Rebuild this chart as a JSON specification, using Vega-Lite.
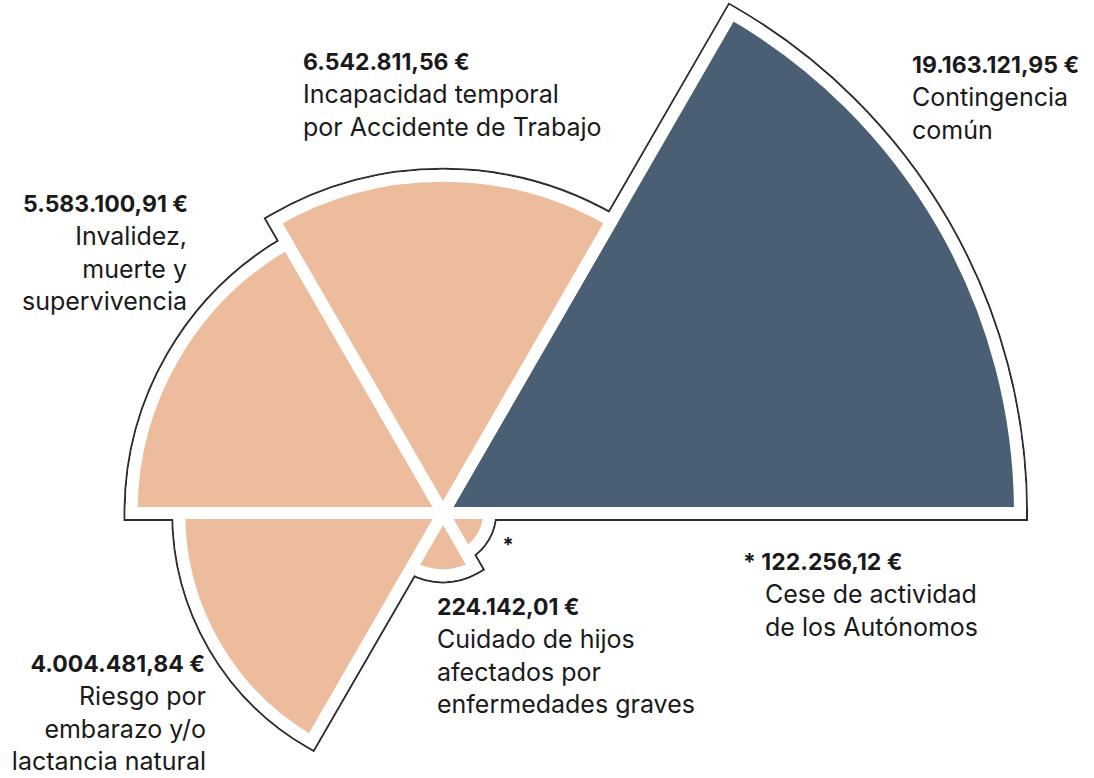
{
  "$schema": "https://vega.github.io/schema/vega-lite/v6.json",
  "width": 1094,
  "height": 778,
  "padding": 0,
  "autosize": {"type": "none"},
  "background": "white",
  "config": {"view": {"stroke": null}, "font": "Inter"},
  "datasets": {
    "sectores": [
      {"categoria": "Contingencia común", "importe": 19163121.95, "orden": 1},
      {"categoria": "Cese de actividad de los Autónomos", "importe": 122256.12, "orden": 2},
      {"categoria": "Cuidado de hijos afectados por enfermedades graves", "importe": 224142.01, "orden": 3},
      {"categoria": "Riesgo por embarazo y/o lactancia natural", "importe": 4004481.84, "orden": 4},
      {"categoria": "Invalidez, muerte y supervivencia", "importe": 5583100.91, "orden": 5},
      {"categoria": "Incapacidad temporal por Accidente de Trabajo", "importe": 6542811.56, "orden": 6}
    ],
    "etiquetas": [
      {"valor": "19.163.121,95 €", "texto": ["Contingencia", "común"], "lx": 469, "ly": 440, "xd": 469, "alinea": "izquierda"},
      {"valor": "6.542.811,56 €", "texto": ["Incapacidad temporal", "por Accidente de Trabajo"], "lx": -140, "ly": 443, "xd": -140, "alinea": "izquierda"},
      {"valor": "5.583.100,91 €", "texto": ["Invalidez,", "muerte y", "supervivencia"], "lx": -255, "ly": 301, "xd": -256, "alinea": "derecha"},
      {"valor": "4.004.481,84 €", "texto": ["Riesgo por", "embarazo y/o", "lactancia natural"], "lx": -238, "ly": -159, "xd": -237, "alinea": "derecha"},
      {"valor": "224.142,01 €", "texto": ["Cuidado de hijos", "afectados por", "enfermedades graves"], "lx": -6, "ly": -102, "xd": -6, "alinea": "izquierda"},
      {"valor": "* 122.256,12 €", "texto": ["Cese de actividad", "de los Autónomos"], "lx": 300, "ly": -57, "xd": 322, "alinea": "izquierda"}
    ],
    "llamadas": [
      {"marca": "*", "lx": 65, "ly": -33}
    ]
  },
  "layer": [
    {
      "data": {"name": "sectores"},
      "transform": [
        {"aggregate": [{"op": "count", "as": "n"}], "groupby": ["categoria", "importe", "orden"]},
        {"stack": "n", "groupby": [], "sort": [{"field": "orden", "order": "ascending"}], "as": ["t0", "t1"]}
      ],
      "layer": [
        {
          "mark": {"type": "arc", "fill": "#2e2e2e", "stroke": "#2e2e2e", "strokeWidth": 16}
        },
        {
          "mark": {"type": "arc", "fill": "white", "stroke": "white", "strokeWidth": 12}
        },
        {
          "mark": {"type": "arc", "stroke": "white", "strokeWidth": 12},
          "encoding": {
            "color": {
              "field": "categoria", "type": "nominal", "legend": null,
              "scale": {
                "domain": ["Contingencia común", "Cese de actividad de los Autónomos", "Cuidado de hijos afectados por enfermedades graves", "Riesgo por embarazo y/o lactancia natural", "Invalidez, muerte y supervivencia", "Incapacidad temporal por Accidente de Trabajo"],
                "range": ["#4a5e74", "#ecbc9c", "#ecbc9c", "#ecbc9c", "#ecbc9c", "#ecbc9c"]
              }
            }
          }
        }
      ],
      "encoding": {
        "x": {"datum": 0, "type": "quantitative", "scale": {"domain": [-443, 651], "nice": false, "zero": false}, "axis": null},
        "y": {"datum": 0, "type": "quantitative", "scale": {"domain": [-265, 513], "nice": false, "zero": false}, "axis": null},
        "theta": {"field": "t0", "type": "quantitative", "scale": {"domain": [0, 6], "range": [0.5236, 6.8068]}},
        "theta2": {"field": "t1"},
        "radius": {"field": "importe", "type": "quantitative", "scale": {"type": "sqrt", "zero": true, "nice": false, "domain": [0, 19163121.95], "range": [0, 577]}}
      }
    },
    {
      "data": {"name": "etiquetas"},
      "transform": [{"filter": "datum.alinea == 'izquierda'"}],
      "layer": [
        {
          "mark": {"type": "text", "align": "left", "baseline": "alphabetic", "fontSize": 23, "fontWeight": 700, "color": "#1a1a1a"},
          "encoding": {
            "x": {"field": "lx", "type": "quantitative", "scale": {"domain": [-443, 651], "nice": false, "zero": false}, "axis": null},
            "text": {"field": "valor", "type": "nominal"}
          }
        },
        {
          "mark": {"type": "text", "align": "left", "baseline": "alphabetic", "fontSize": 25, "fontWeight": 400, "lineHeight": 32.5, "dy": 33, "color": "#1a1a1a"},
          "encoding": {
            "x": {"field": "xd", "type": "quantitative", "scale": {"domain": [-443, 651], "nice": false, "zero": false}, "axis": null},
            "text": {"field": "texto", "type": "nominal"}
          }
        }
      ],
      "encoding": {
        "y": {"field": "ly", "type": "quantitative", "scale": {"domain": [-265, 513], "nice": false, "zero": false}, "axis": null}
      }
    },
    {
      "data": {"name": "etiquetas"},
      "transform": [{"filter": "datum.alinea == 'derecha'"}],
      "layer": [
        {
          "mark": {"type": "text", "align": "right", "baseline": "alphabetic", "fontSize": 23, "fontWeight": 700, "color": "#1a1a1a"},
          "encoding": {
            "x": {"field": "lx", "type": "quantitative", "scale": {"domain": [-443, 651], "nice": false, "zero": false}, "axis": null},
            "text": {"field": "valor", "type": "nominal"}
          }
        },
        {
          "mark": {"type": "text", "align": "right", "baseline": "alphabetic", "fontSize": 25, "fontWeight": 400, "lineHeight": 32.5, "dy": 33, "color": "#1a1a1a"},
          "encoding": {
            "x": {"field": "xd", "type": "quantitative", "scale": {"domain": [-443, 651], "nice": false, "zero": false}, "axis": null},
            "text": {"field": "texto", "type": "nominal"}
          }
        }
      ],
      "encoding": {
        "y": {"field": "ly", "type": "quantitative", "scale": {"domain": [-265, 513], "nice": false, "zero": false}, "axis": null}
      }
    },
    {
      "data": {"name": "llamadas"},
      "mark": {"type": "text", "align": "center", "baseline": "middle", "fontSize": 20, "fontWeight": 700, "color": "#1a1a1a"},
      "encoding": {
        "x": {"field": "lx", "type": "quantitative", "scale": {"domain": [-443, 651], "nice": false, "zero": false}, "axis": null},
        "y": {"field": "ly", "type": "quantitative", "scale": {"domain": [-265, 513], "nice": false, "zero": false}, "axis": null},
        "text": {"field": "marca", "type": "nominal"}
      }
    }
  ]
}
